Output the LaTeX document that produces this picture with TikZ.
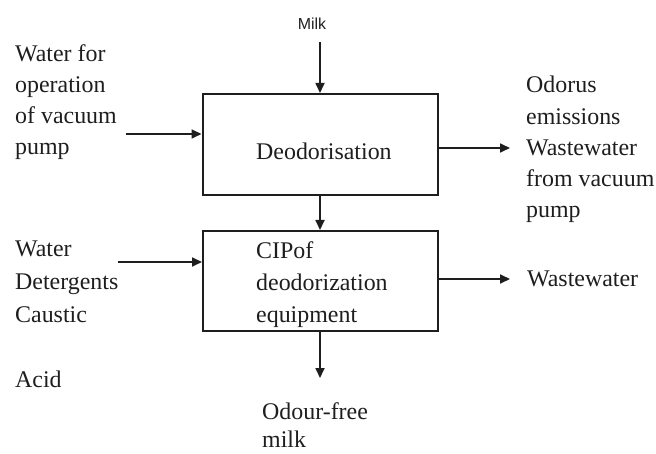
\documentclass[tikz,border=0pt]{standalone}
\usepackage{fontspec}
\setmainfont{Liberation Serif}
\newfontfamily\labelsans{Liberation Sans}
\usetikzlibrary{arrows.meta}

% a left-aligned block of lines (separated by \cr) whose first baseline is the node baseline
\newcommand{\linesat}[2]{\vtop{\fontsize{24}{#1}\selectfont\halign{##\hfil\cr#2\crcr}}}

\definecolor{ink}{HTML}{1E1E1E}

\tikzset{
  stepbox/.style={draw=ink, line width=2bp, minimum width=235bp, minimum height=101bp, inner sep=0pt},
  flow/.style={draw=ink, line width=1.7bp, -{Triangle[length=10bp,width=9bp]}},
  txt/.style={text=ink, inner sep=0pt, anchor=base west},
}

\begin{document}
\begin{tikzpicture}[x=1bp, y=-1bp]
  \useasboundingbox (0,0) rectangle (656,454);

  % process steps
  \node[stepbox] (dbox) at (320,144.5) {};
  \node[stepbox, minimum height=100bp] (cbox) at (320.5,281) {};

  \node[txt] (dlabel) at (256,160) {\linesat{31}{Deodorisation}};
  \node[txt] (clabel) at (256,259) {\linesat{32}{CIPof\cr deodorization\cr equipment}};

  % feed of milk
  \node[text=ink, inner sep=0pt, anchor=base, font=\labelsans\fontsize{16}{19}\selectfont] (milk) at (312,30) {Milk};
  \coordinate (milkin) at (320,42);
  \draw[flow] (milkin) -- (dbox.north);

  % water for the vacuum pump
  \node[txt] (pumpwater) at (15,62) {\linesat{31}{Water for\cr operation\cr of vacuum\cr pump}};
  \coordinate (pumpin) at (126,134);
  \draw[flow] (pumpin) -- (pumpin -| dbox.west);

  % outputs of deodorisation
  \node[txt] (odour) at (526,93) {\linesat{31.2}{Odorus\cr emissions\cr Wastewater\cr from vacuum\cr pump}};
  \coordinate (odourout) at (510,148);
  \draw[flow] (odourout -| dbox.east) -- (odourout);

  % deodorisation to cleaning
  \draw[flow] (dbox.south) -- (cbox.north -| dbox.south);

  % cleaning agents
  \node[txt] (agents) at (15,257) {\linesat{32.7}{Water\cr Detergents\cr Caustic\cr\cr Acid}};
  \coordinate (agentsin) at (118,262);
  \draw[flow] (agentsin) -- (agentsin -| cbox.west);

  % wastewater from cleaning
  \node[txt] (waste) at (527,287) {\linesat{31}{Wastewater}};
  \coordinate (wasteout) at (510,279);
  \draw[flow] (wasteout -| cbox.east) -- (wasteout);

  % product
  \coordinate (productout) at (320,378);
  \draw[flow] (cbox.south -| productout) -- (productout);
  \node[txt] (product) at (262,419) {\linesat{29}{Odour-free\cr milk}};
\end{tikzpicture}
\end{document}
